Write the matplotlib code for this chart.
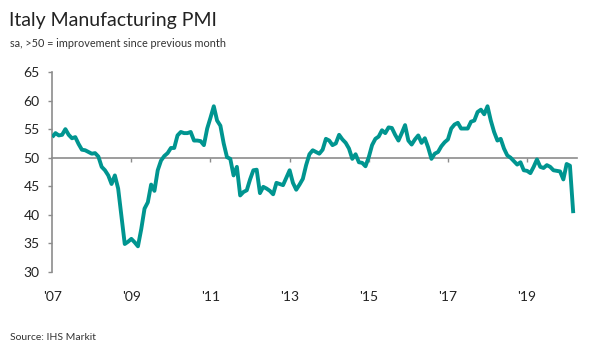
import numpy as np
import matplotlib
matplotlib.use("Agg")
import matplotlib.pyplot as plt

# Italy manufacturing PMI, monthly, Jan 2007 - Mar 2020
pmi_2007 = [53.6, 54.3, 53.9, 54.0, 55.0, 54.0, 53.4, 53.6, 52.4, 51.4, 51.3, 51.0]
pmi_2008 = [50.7, 50.8, 50.2, 48.4, 47.8, 46.9, 45.4, 46.9, 44.6, 39.8, 34.9, 35.3]
pmi_2009 = [35.8, 35.2, 34.5, 37.5, 41.1, 42.2, 45.3, 44.2, 47.8, 49.5, 50.3, 50.8]
pmi_2010 = [51.7, 51.7, 53.9, 54.5, 54.3, 54.3, 54.5, 53.0, 53.0, 52.9, 52.2, 55.1]
pmi_2011 = [57.0, 59.0, 56.5, 55.6, 52.5, 50.1, 49.8, 46.9, 48.4, 43.4, 44.0, 44.3]
pmi_2012 = [46.2, 47.8, 47.9, 43.8, 44.9, 44.6, 44.2, 43.6, 45.6, 45.4, 45.2, 46.5]
pmi_2013 = [47.8, 45.6, 44.4, 45.3, 46.3, 48.7, 50.6, 51.3, 51.0, 50.7, 51.4, 53.3]
pmi_2014 = [53.0, 52.2, 52.5, 54.0, 53.2, 52.6, 51.6, 49.8, 50.6, 49.2, 49.1, 48.5]
pmi_2015 = [50.1, 52.2, 53.3, 53.7, 54.8, 54.3, 55.3, 55.2, 54.0, 53.0, 54.3, 55.7]
pmi_2016 = [53.0, 52.3, 53.2, 53.9, 52.6, 53.4, 51.8, 49.8, 50.7, 51.0, 52.0, 52.7]
pmi_2017 = [53.2, 55.1, 55.8, 56.1, 55.1, 55.1, 55.1, 56.3, 56.5, 58.0, 58.4, 57.6]
pmi_2018 = [59.0, 56.5, 54.5, 53.0, 53.3, 51.6, 50.4, 50.0, 49.4, 48.8, 49.2, 47.8]
pmi_2019 = [47.7, 47.3, 48.4, 49.7, 48.4, 48.2, 48.7, 48.4, 47.8, 47.7, 47.6, 46.2]
pmi_2020 = [48.9, 48.6, 40.3]

pmi = (pmi_2007 + pmi_2008 + pmi_2009 + pmi_2010 + pmi_2011 + pmi_2012 + pmi_2013
       + pmi_2014 + pmi_2015 + pmi_2016 + pmi_2017 + pmi_2018 + pmi_2019 + pmi_2020)
months = np.arange(len(pmi))  # months since Jan 2007

year_labels = ["'07", "'09", "'11", "'13", "'15", "'17", "'19"]
year_ticks = [12 * (int(s[1:]) - 7) for s in year_labels]
y_ticks = [30, 35, 40, 45, 50, 55, 60, 65]

plt.rcParams['font.family'] = ['Lato', 'DejaVu Sans']

fig = plt.figure(figsize=(6, 3.51), dpi=100)
ax = fig.add_axes([0.087, 0.225, 0.875, 0.570])

ax.plot(months, pmi, color='#009590', lw=2.8, solid_joinstyle='round',
        solid_capstyle='butt', zorder=3)

ax.set_ylim(30, 65)
ax.set_xlim(0, 159.2)
ax.set_yticks(y_ticks)
ax.tick_params(axis='y', direction='out', length=3, width=1, color='#8c8c8c',
               labelsize=10, labelcolor='#222222', pad=6)

for s in ['top', 'right']:
    ax.spines[s].set_visible(False)
ax.spines['left'].set_color('#8c8c8c')
ax.spines['left'].set_linewidth(1.2)
ax.spines['bottom'].set_position(('data', 50))
ax.spines['bottom'].set_color('#8c8c8c')
ax.spines['bottom'].set_linewidth(1.2)

ax.set_xticks(year_ticks[1:])
ax.tick_params(axis='x', direction='out', length=3, width=1, color='#8c8c8c',
               labelbottom=False)

sec = ax.secondary_xaxis('bottom')
sec.set_xticks(year_ticks, labels=year_labels)
sec.tick_params(length=0, pad=14, labelsize=10, labelcolor='#222222')
sec.spines['bottom'].set_visible(False)

fig.text(0.015, 0.925, 'Italy Manufacturing PMI', fontsize=14, color='#222222',
         va='baseline')
fig.text(0.017, 0.865, 'sa, >50 = improvement since previous month', fontsize=7.8,
         color='#333333', va='baseline')
fig.text(0.017, 0.03, 'Source: IHS Markit', fontsize=7.5, color='#333333',
         va='baseline')

fig.savefig('out.png', dpi=100)
